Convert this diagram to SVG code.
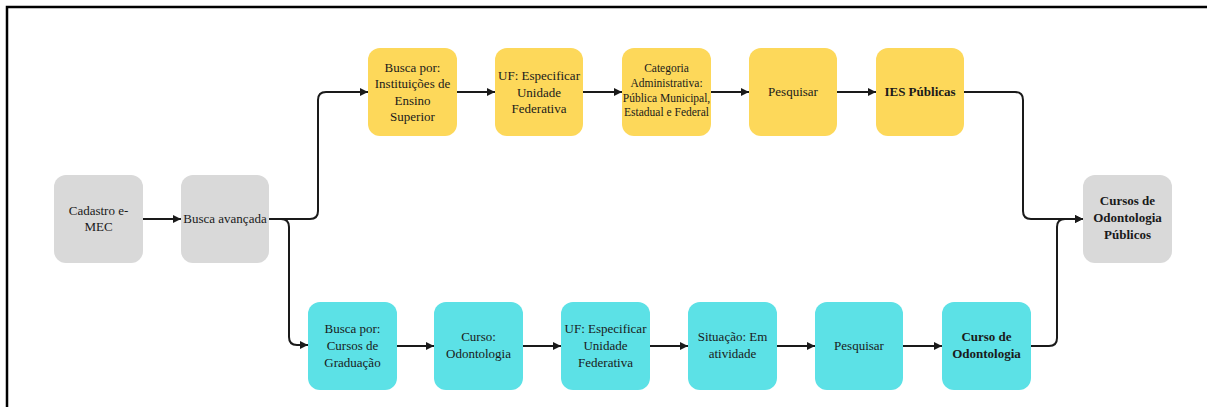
<svg xmlns="http://www.w3.org/2000/svg" width="1207" height="407" viewBox="0 0 1207 407">
<defs>
<style>
.gray{fill:#d9d9d9}
.yel{fill:#fdd85a}
.cyan{fill:#5ce1e6}
text{font-family:"Liberation Serif","Times New Roman",serif;font-size:13px;fill:#1a1a1a;text-anchor:middle}
.b{font-weight:bold}
.s{font-size:11.5px}
.c{fill:none;stroke:#1a1a1a;stroke-width:2;marker-end:url(#ah)}
</style>
<marker id="ah" markerUnits="userSpaceOnUse" markerWidth="9" markerHeight="9" refX="8" refY="4.5" orient="auto">
<path d="M0,0.5 L8,4.5 L0,8.5 z" fill="#1a1a1a"/>
</marker>
</defs>
<rect width="1207" height="407" fill="#fff"/>
<path d="M7,407 V7 H1207" fill="none" stroke="#000" stroke-width="2.5"/>
<g id="connectors">
<path class="c" d="M143,219 H181"/>
<path class="c" d="M269,219 H310 Q318,219 318,211 V100 Q318,92 326,92 H368"/>
<path class="c" d="M269,219 H281 Q289,219 289,227 V337 Q289,345 297,345 H308"/>
<path class="c" d="M457,92 H495"/>
<path class="c" d="M583,92 H622"/>
<path class="c" d="M711,92 H749"/>
<path class="c" d="M837,92 H876"/>
<path class="c" d="M964,92 H1015 Q1023,92 1023,100 V211 Q1023,219 1031,219 H1083"/>
<path class="c" d="M397,346 H434"/>
<path class="c" d="M523,346 H561"/>
<path class="c" d="M650,346 H688"/>
<path class="c" d="M777,346 H815"/>
<path class="c" d="M903,346 H942"/>
<path class="c" d="M1031,346 H1049 Q1057,346 1057,338 V227 Q1057,219 1065,219 H1083"/>
</g>
<g id="cadastro">
<rect class="gray" x="54" y="175" width="89" height="88" rx="12"/>
<text x="98.5" y="215">Cadastro e-</text>
<text x="98.5" y="231">MEC</text>
</g>
<g id="busca-avancada">
<rect class="gray" x="181" y="175" width="88" height="88" rx="12"/>
<text x="225" y="223">Busca avançada</text>
</g>
<g id="busca-ies">
<rect class="yel" x="368" y="48" width="89" height="88" rx="12"/>
<text x="412.5" y="72">Busca por:</text>
<text x="412.5" y="88">Instituições de</text>
<text x="412.5" y="104.5">Ensino</text>
<text x="412.5" y="121">Superior</text>
</g>
<g id="uf-1">
<rect class="yel" x="495" y="48" width="88" height="88" rx="12"/>
<text x="539" y="80">UF: Especificar</text>
<text x="539" y="96.5">Unidade</text>
<text x="539" y="113">Federativa</text>
</g>
<g id="categoria">
<rect class="yel" x="622" y="48" width="89" height="88" rx="12"/>
<text class="s" x="666.5" y="72">Categoria</text>
<text class="s" x="666.5" y="87">Administrativa:</text>
<text class="s" x="666.5" y="102">Pública Municipal,</text>
<text class="s" x="666.5" y="116">Estadual e Federal</text>
</g>
<g id="pesquisar-1">
<rect class="yel" x="749" y="48" width="88" height="88" rx="12"/>
<text x="793" y="96">Pesquisar</text>
</g>
<g id="ies-publicas">
<rect class="yel" x="876" y="48" width="88" height="88" rx="12"/>
<text class="b" x="920" y="96">IES Públicas</text>
</g>
<g id="cursos-publicos">
<rect class="gray" x="1083" y="175" width="89" height="88" rx="12"/>
<text class="b" x="1127.5" y="205">Cursos de</text>
<text class="b" x="1127.5" y="222">Odontologia</text>
<text class="b" x="1127.5" y="239">Públicos</text>
</g>
<g id="busca-cursos">
<rect class="cyan" x="308" y="302" width="89" height="88" rx="12"/>
<text x="352.5" y="333">Busca por:</text>
<text x="352.5" y="350">Cursos de</text>
<text x="352.5" y="367">Graduação</text>
</g>
<g id="curso-odonto">
<rect class="cyan" x="434" y="302" width="89" height="88" rx="12"/>
<text x="478.5" y="341">Curso:</text>
<text x="478.5" y="358">Odontologia</text>
</g>
<g id="uf-2">
<rect class="cyan" x="561" y="302" width="89" height="88" rx="12"/>
<text x="605.5" y="333">UF: Especificar</text>
<text x="605.5" y="350">Unidade</text>
<text x="605.5" y="367">Federativa</text>
</g>
<g id="situacao">
<rect class="cyan" x="688" y="302" width="89" height="88" rx="12"/>
<text x="732.5" y="341">Situação: Em</text>
<text x="732.5" y="358">atividade</text>
</g>
<g id="pesquisar-2">
<rect class="cyan" x="815" y="302" width="88" height="88" rx="12"/>
<text x="859" y="350">Pesquisar</text>
</g>
<g id="curso-de-odonto">
<rect class="cyan" x="942" y="302" width="89" height="88" rx="12"/>
<text class="b" x="986.5" y="341">Curso de</text>
<text class="b" x="986.5" y="358">Odontologia</text>
</g>
</svg>
